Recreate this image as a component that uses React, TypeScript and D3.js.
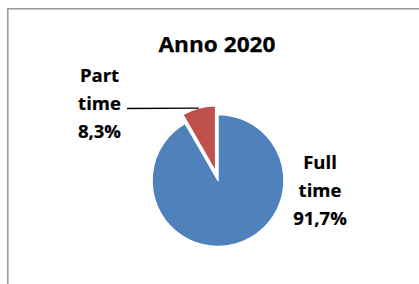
import React from "react";
import * as d3 from "d3";

const categories = ["Full time", "Part time"];
const values = [91.7, 8.3];
const labelLines = [["Full", "time", "91,7%"], ["Part", "time", "8,3%"]];
const colors = ["#4F81BD", "#C0504D"];
const title = "Anno 2020";

const W = 419;
const H = 284;

export default function App() {
  const cx = 218;
  const cy = 180.5;
  const r = 66;
  const explode = [0, 9];

  const pie = d3.pie<number>().sort(null).value((d) => d)(values);
  const arc = d3.arc<d3.PieArcDatum<number>>().innerRadius(0).outerRadius(r);

  const font = "'Open Sans', 'Liberation Sans', sans-serif";

  const offsets = pie.map((p, i) => {
    const a = (p.startAngle + p.endAngle) / 2;
    return [Math.sin(a) * explode[i], -Math.cos(a) * explode[i]];
  });

  const pt = pie[1];
  const midA = (pt.startAngle + pt.endAngle) / 2;
  const leadEnd = [
    cx + offsets[1][0] + Math.sin(midA) * r,
    cy + offsets[1][1] - Math.cos(midA) * r,
  ];

  const labelPos = [
    { x: cx + 102, y: cy - 11.5 },
    { x: cx - 118.5, y: cy - 98.5 },
  ];
  const lineGap = 27.8;

  return (
    <svg
      width={W}
      height={H}
      style={{ position: "absolute", left: 0, top: 0, background: "#fff" }}
    >
      <rect x={7.75} y={8.75} width={600} height={400} fill="#fff" stroke="#9a9a9a" strokeWidth={1.6} />
      <text
        x={217}
        y={51.5}
        textAnchor="middle"
        fontFamily={font}
        fontWeight={700}
        fontSize={21.5}
        fill="#000"
        stroke="#000"
        strokeWidth={0.25}
        textLength={117}
        lengthAdjust="spacingAndGlyphs"
      >
        {title}
      </text>
      {pie.map((p, i) => (
        <path
          key={categories[i]}
          d={arc(p) || ""}
          transform={`translate(${cx + offsets[i][0]},${cy + offsets[i][1]})`}
          fill={colors[i]}
          stroke="#fff"
          strokeWidth={1.5}
          strokeLinejoin="round"
        />
      ))}
      <line
        x1={127}
        y1={108.5}
        x2={leadEnd[0]}
        y2={leadEnd[1]}
        stroke="#000"
        strokeWidth={1.3}
      />
      {labelLines.map((lines, i) => (
        <text
          key={categories[i]}
          textAnchor="middle"
          fontFamily={font}
          fontWeight={700}
          fontSize={18.5}
          fill="#000"
          stroke="#000"
          strokeWidth={0.2}
        >
          {lines.map((l, j) => (
            <tspan key={j} x={labelPos[i].x} y={labelPos[i].y + j * lineGap}>
              {l}
            </tspan>
          ))}
        </text>
      ))}
    </svg>
  );
}
